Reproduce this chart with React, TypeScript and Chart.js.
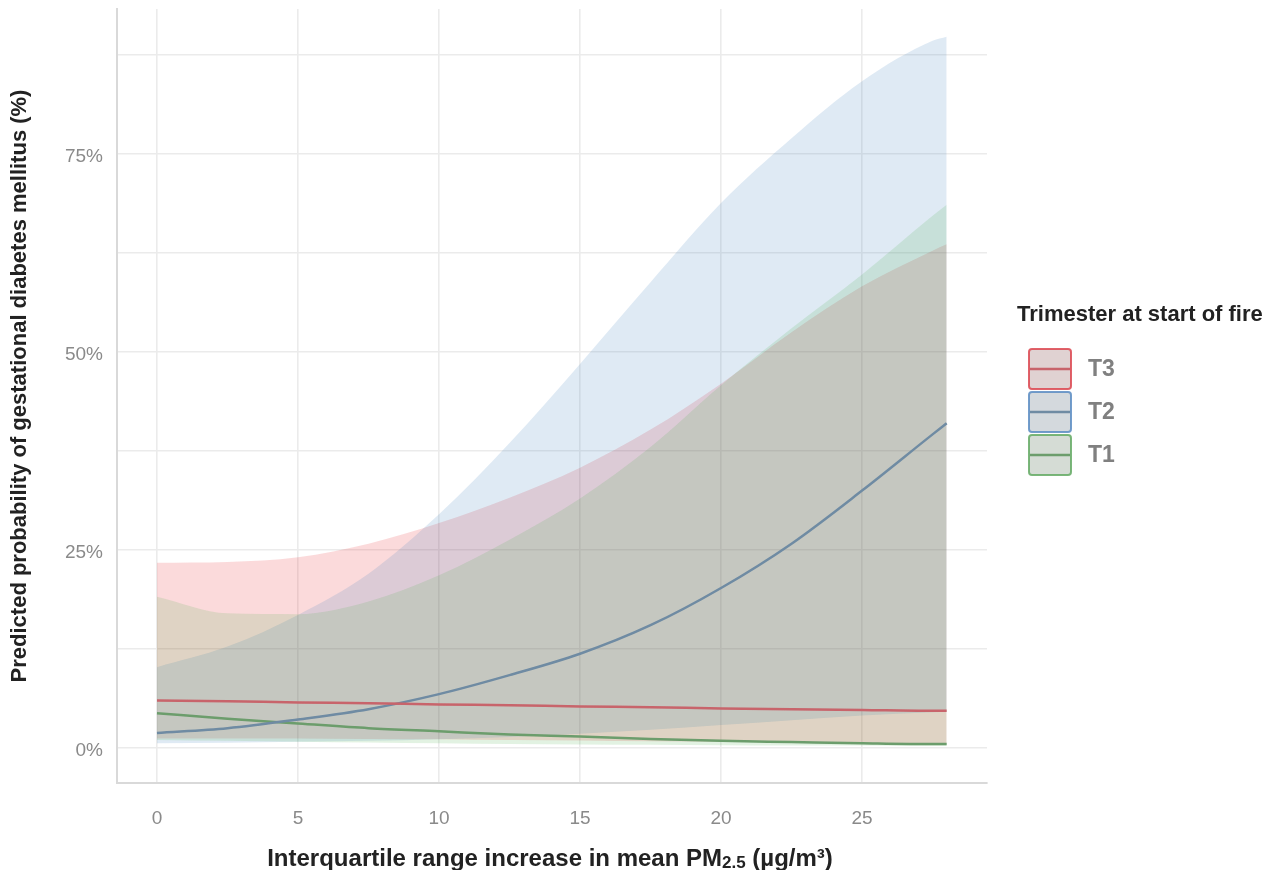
import React, { useEffect, useRef } from "react";
import { Chart, registerables } from "chart.js";

Chart.register(...registerables);

// Exposure grid: interquartile range increase in mean PM2.5 (µg/m³)
const pm25 = [0, 2.5, 5, 7.5, 10, 12.5, 15, 17.5, 20, 22.5, 25, 27.5, 28];

// Predicted probability (%) with 95% confidence band, by trimester
const t3Fit = [6.0, 5.9, 5.75, 5.65, 5.5, 5.4, 5.25, 5.15, 5.0, 4.9, 4.8, 4.7, 4.7];
const t3Lower = [1.2, 1.2, 1.2, 1.15, 1.1, 1.0, 0.95, 0.85, 0.8, 0.7, 0.6, 0.5, 0.5];
const t3Upper = [23.4, 23.5, 24.1, 25.8, 28.4, 31.6, 35.4, 40.2, 46.0, 52.5, 58.3, 62.8, 63.6];

const t2Fit = [1.9, 2.5, 3.6, 4.9, 6.8, 9.2, 11.9, 15.5, 20.2, 25.8, 32.5, 39.6, 41.0];
const t2Lower = [0.6, 0.65, 0.8, 0.9, 1.1, 1.4, 1.8, 2.3, 2.9, 3.5, 4.1, 4.5, 4.6];
const t2Upper = [10.2, 12.8, 16.8, 22.0, 29.5, 38.5, 48.5, 58.8, 68.8, 77.0, 84.2, 89.3, 89.8];

const t1Fit = [4.4, 3.7, 3.1, 2.5, 2.1, 1.7, 1.45, 1.15, 0.9, 0.75, 0.6, 0.5, 0.5];
const t1Lower = [1.0, 0.9, 0.8, 0.7, 0.6, 0.5, 0.45, 0.4, 0.35, 0.3, 0.3, 0.25, 0.25];
const t1Upper = [19.1, 17.0, 16.9, 18.5, 21.8, 26.3, 31.5, 38.0, 45.8, 53.0, 59.8, 67.2, 68.6];

const yTicks = [0, 12.5, 25, 37.5, 50, 62.5, 75, 87.5];
const xTicks = [0, 5, 10, 15, 20, 25];

const legendTitle = "Trimester at start of fire";
const trimesters = ["T3", "T2", "T1"];
const yTitle = "Predicted probability of gestational diabetes mellitus (%)";

const FONT = "'Liberation Sans', Arial, Helvetica, sans-serif";

const palette: Record<string, { fill: string; keyFill: string; line: string; key: string }> = {
  T3: { fill: "rgba(228,26,28,0.16)", keyFill: "rgba(228,26,28,0.07)", line: "#c8646b", key: "rgba(220,70,80,0.85)" },
  T2: { fill: "rgba(55,126,184,0.16)", keyFill: "rgba(55,126,184,0.07)", line: "#6f8ba3", key: "rgba(90,140,195,0.85)" },
  T1: { fill: "rgba(77,175,74,0.16)", keyFill: "rgba(77,175,74,0.07)", line: "#6c9d6c", key: "rgba(100,170,100,0.85)" },
};

const pts = (ys: number[]) => pm25.map((x, i) => ({ x, y: ys[i] }));

const series = [
  { name: "T3", fit: t3Fit, lower: t3Lower, upper: t3Upper },
  { name: "T2", fit: t2Fit, lower: t2Lower, upper: t2Upper },
  { name: "T1", fit: t1Fit, lower: t1Lower, upper: t1Upper },
];

const overlayPlugin = {
  id: "overlayText",
  afterDraw(chart: any) {
    const { ctx, chartArea } = chart;
    ctx.save();

    // Y axis title
    ctx.fillStyle = "#222222";
    ctx.font = `bold 22px ${FONT}`;
    ctx.textAlign = "center";
    ctx.textBaseline = "middle";
    ctx.translate(20, 386);
    ctx.rotate(-Math.PI / 2);
    ctx.fillText(yTitle, 0, 0);
    ctx.setTransform(1, 0, 0, 1, 0, 0);

    // X axis title with subscript
    const main = `bold 24px ${FONT}`;
    const sub = `bold 17px ${FONT}`;
    const p1 = "Interquartile range increase in mean PM";
    const p2 = "2.5";
    const p3 = " (µg/m³)";
    ctx.textAlign = "left";
    ctx.textBaseline = "alphabetic";
    ctx.font = main;
    const w1 = ctx.measureText(p1).width;
    const w3 = ctx.measureText(p3).width;
    ctx.font = sub;
    const w2 = ctx.measureText(p2).width;
    const total = w1 + w2 + w3;
    let x = 550 - total / 2;
    const base = 866;
    ctx.font = main;
    ctx.fillText(p1, x, base);
    x += w1;
    ctx.font = sub;
    ctx.fillText(p2, x, base + 2);
    x += w2;
    ctx.font = main;
    ctx.fillText(p3, x, base);

    // Legend
    ctx.fillStyle = "#222222";
    ctx.font = `bold 22px ${FONT}`;
    ctx.fillText(legendTitle, 1017, 321);

    const kx = 1029;
    const kw = 42;
    const kh = 40;
    trimesters.forEach((name, i) => {
      const ky = 349 + i * 43;
      const c = palette[name];
      ctx.beginPath();
      ctx.roundRect(kx, ky, kw, kh, 3);
      ctx.fillStyle = "#e0e0e0";
      ctx.fill();
      ctx.fillStyle = c.keyFill;
      ctx.fill();
      ctx.lineWidth = 2;
      ctx.strokeStyle = c.key;
      ctx.stroke();
      ctx.beginPath();
      ctx.moveTo(kx + 1, ky + kh / 2);
      ctx.lineTo(kx + kw - 1, ky + kh / 2);
      ctx.lineWidth = 2.5;
      ctx.strokeStyle = c.line;
      ctx.stroke();

      ctx.fillStyle = "#808080";
      ctx.font = `bold 23px ${FONT}`;
      ctx.textBaseline = "middle";
      ctx.fillText(name, 1088, ky + kh / 2 + 1);
      ctx.textBaseline = "alphabetic";
    });

    ctx.restore();
  },
};

export default function App() {
  const canvasRef = useRef<HTMLCanvasElement | null>(null);

  useEffect(() => {
    const canvas = canvasRef.current;
    if (!canvas) return;

    // Bands: T1 first in the list so it is painted last (on top)
    const bandSets: any[] = [];
    [...series].reverse().forEach((s) => {
      bandSets.push({
        label: `${s.name} lower`,
        data: pts(s.lower),
        borderColor: "rgba(0,0,0,0)",
        borderWidth: 0,
        backgroundColor: "rgba(0,0,0,0)",
        fill: false,
        order: 2,
      });
      bandSets.push({
        label: `${s.name} upper`,
        data: pts(s.upper),
        borderColor: "rgba(0,0,0,0)",
        borderWidth: 0,
        backgroundColor: palette[s.name].fill,
        fill: "-1",
        order: 2,
      });
    });
    const lineSets = series.map((s) => ({
      label: s.name,
      data: pts(s.fit),
      borderColor: palette[s.name].line,
      borderWidth: 2.5,
      backgroundColor: palette[s.name].line,
      fill: false,
      order: 1,
    }));

    const noEdgePadding = (scale: any) => {
      scale.paddingTop = 0;
      scale.paddingBottom = 0;
      scale.paddingLeft = 0;
      scale.paddingRight = 0;
    };

    const chart = new Chart(canvas, {
      type: "line",
      data: { datasets: [...bandSets, ...lineSets] },
      options: {
        animation: false,
        responsive: false,
        events: [],
        devicePixelRatio: 1,
        layout: { padding: { left: 0, right: 286, top: 9, bottom: 0 } },
        elements: {
          point: { radius: 0 },
          line: { tension: 0.4, cubicInterpolationMode: "monotone" },
        },
        plugins: {
          legend: { display: false },
          tooltip: { enabled: false },
        },
        scales: {
          x: {
            type: "linear",
            min: -1.418,
            max: 29.43,
            afterBuildTicks: (scale: any) => {
              scale.ticks = xTicks.map((v) => ({ value: v }));
            },
            afterFit: (scale: any) => {
              scale.height = 87;
              noEdgePadding(scale);
            },
            ticks: {
              autoSkip: false,
              maxRotation: 0,
              padding: 24,
              color: "#8a8a8a",
              font: { family: FONT, size: 19 },
              callback: (v: any) => `${v}`,
            },
            grid: { color: "#ebebeb", lineWidth: 1.6, drawTicks: false },
            border: { display: true, color: "#d9d9d9", width: 2 },
          },
          y: {
            type: "linear",
            min: -4.42,
            max: 93.31,
            afterBuildTicks: (scale: any) => {
              scale.ticks = yTicks.map((v) => ({ value: v }));
            },
            afterFit: (scale: any) => {
              scale.width = 117;
              noEdgePadding(scale);
            },
            ticks: {
              autoSkip: false,
              padding: 14,
              labelOffset: 3,
              color: "#8a8a8a",
              font: { family: FONT, size: 19 },
              callback: (v: any) => (Number(v) % 25 === 0 ? `${v}%` : ""),
            },
            grid: { color: "#ebebeb", lineWidth: 1.6, drawTicks: false },
            border: { display: true, color: "#d9d9d9", width: 2 },
          },
        },
      },
      plugins: [overlayPlugin],
    } as any);

    return () => chart.destroy();
  }, []);

  return (
    <div style={{ position: "fixed", left: 0, top: 0, width: 1273, height: 870, background: "#ffffff" }}>
      <canvas ref={canvasRef} width={1273} height={870} style={{ width: 1273, height: 870, display: "block" }} />
    </div>
  );
}
